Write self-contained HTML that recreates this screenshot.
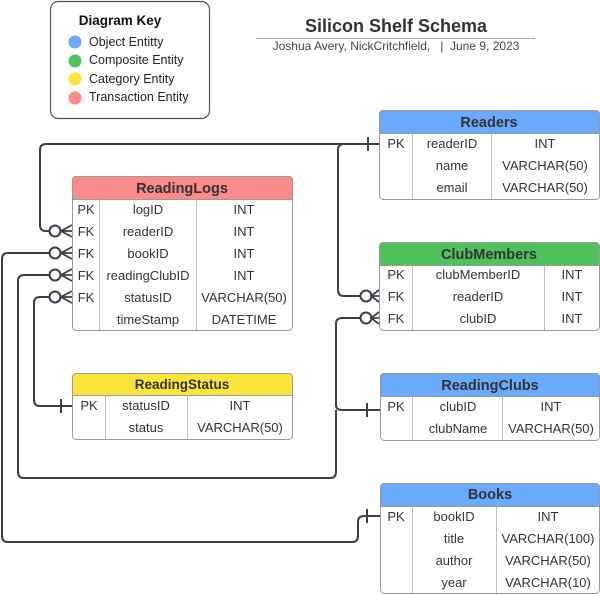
<!DOCTYPE html>
<html><head><meta charset="utf-8"><style>
html,body{margin:0;padding:0;background:#fff;}
svg{display:block;font-family:"Liberation Sans",Arial,sans-serif;}
.t{font-size:13px;fill:#333;text-anchor:middle;}
.h{font-size:14.5px;font-weight:bold;fill:#333;text-anchor:middle;}
.k{font-size:12.5px;fill:#222;text-anchor:start;}
.b{fill:#fff;stroke:#999;stroke-width:1;}
.c{stroke:#bbb;stroke-width:1;}
.ln{fill:none;stroke:#3a4048;stroke-width:2;}
</style></head><body>
<svg width="600" height="595" viewBox="0 0 600 595">
<!-- Key -->
<rect x="50.5" y="1.5" width="159" height="117" rx="8" fill="#fff" stroke="#555" stroke-width="1.2"/>
<text x="120" y="25" style="font-size:13.5px;font-weight:bold;fill:#111;text-anchor:middle">Diagram Key</text>
<circle cx="75" cy="42" r="6.5" fill="#6aaafd"/><text class="k" x="89" y="46">Object Entitty</text>
<circle cx="75" cy="61" r="6.5" fill="#4fc25b"/><text class="k" x="89" y="64">Composite Entity</text>
<circle cx="75" cy="79" r="6.5" fill="#fde43a"/><text class="k" x="89" y="83">Category Entity</text>
<circle cx="75" cy="98" r="6.5" fill="#fb8a88"/><text class="k" x="89" y="101">Transaction Entity</text>
<!-- Title -->
<text x="396" y="32" style="font-size:18px;font-weight:bold;fill:#333;text-anchor:middle">Silicon Shelf Schema</text>
<line x1="256" y1="38.5" x2="535" y2="38.5" stroke="#aaa"/>
<text x="396" y="50" style="font-size:12px;fill:#444;text-anchor:middle">Joshua Avery, NickCritchfield,&#160;&#160;&#160;|&#160;&#160;June 9, 2023</text>

<!-- Connectors -->
<path class="ln" d="M379 144 H46 Q40 144 40 150 V225 Q40 231 46 231 H49"/>
<path class="ln" d="M344 144 Q338 144 338 150 V290 Q338 296 344 296 H361"/>
<path class="ln" d="M380 516 H364 Q358 516 358 522 V536 Q358 542 352 542 H8 Q2 542 2 536 V259 Q2 253 8 253 H49"/>
<path class="ln" d="M361 318 H342 Q336 318 336 324 V405 Q336 410 342 410 H380 M336 410 V472 Q336 478 330 478 H24 Q18 478 18 472 V281 Q18 275 24 275 H49"/>
<path class="ln" d="M72 406 H40 Q34 406 34 400 V303 Q34 297 40 297 H49"/>
<!-- bars -->
<g stroke="#3a4048" stroke-width="2">
<line x1="368" y1="137" x2="368" y2="151"/>
<line x1="367" y1="509" x2="367" y2="523"/>
<line x1="367" y1="403" x2="367" y2="417"/>
<line x1="61" y1="399" x2="61" y2="413"/>
</g>
<!-- crow's feet -->
<g fill="#fff" stroke="#3a4048" stroke-width="2">
<circle cx="55" cy="231" r="5.5"/><circle cx="55" cy="253" r="5.5"/><circle cx="55" cy="275" r="5.5"/><circle cx="55" cy="297" r="5.5"/>
<circle cx="366" cy="296" r="5.5"/><circle cx="366" cy="318" r="5.5"/>
</g>
<g fill="none" stroke="#3a4048" stroke-width="1.8">
<path d="M72 225 L61 231 L72 237 M61 231 H72"/>
<path d="M72 247 L61 253 L72 259 M61 253 H72"/>
<path d="M72 269 L61 275 L72 281 M61 275 H72"/>
<path d="M72 291 L61 297 L72 303 M61 297 H72"/>
<path d="M379 290 L371 296 L379 302 M371 296 H379"/>
<path d="M379 312 L371 318 L379 324 M371 318 H379"/>
</g>

<!-- ReadingLogs -->
<rect class="b" x="72.5" y="176.5" width="220" height="154" rx="4"/>
<path d="M72.5 180.5 Q72.5 176.5 76.5 176.5 H288.5 Q292.5 176.5 292.5 180.5 V199.5 H72.5Z" fill="#fb8a88" stroke="#999"/>
<line class="c" x1="99.5" y1="199.5" x2="99.5" y2="330"/><line class="c" x1="196.5" y1="199.5" x2="196.5" y2="330"/>
<text class="h" x="182" y="193">ReadingLogs</text>
<text class="t" x="86" y="214">PK</text><text class="t" x="148" y="214">logID</text><text class="t" x="244" y="214">INT</text>
<text class="t" x="86" y="236">FK</text><text class="t" x="148" y="236">readerID</text><text class="t" x="244" y="236">INT</text>
<text class="t" x="86" y="258">FK</text><text class="t" x="148" y="258">bookID</text><text class="t" x="244" y="258">INT</text>
<text class="t" x="86" y="280">FK</text><text class="t" x="148" y="280">readingClubID</text><text class="t" x="244" y="280">INT</text>
<text class="t" x="86" y="302">FK</text><text class="t" x="148" y="302">statusID</text><text class="t" x="244" y="302">VARCHAR(50)</text>
<text class="t" x="148" y="324">timeStamp</text><text class="t" x="244" y="324">DATETIME</text>

<!-- Readers -->
<rect class="b" x="379.5" y="110.5" width="220" height="89" rx="4"/>
<path d="M379.5 114.5 Q379.5 110.5 383.5 110.5 H595.5 Q599.5 110.5 599.5 114.5 V133.5 H379.5Z" fill="#6aaafd" stroke="#999"/>
<line class="c" x1="412.5" y1="133.5" x2="412.5" y2="199"/><line class="c" x1="491.5" y1="133.5" x2="491.5" y2="199"/>
<text class="h" x="489" y="127">Readers</text>
<text class="t" x="396" y="148">PK</text><text class="t" x="452" y="148">readerID</text><text class="t" x="545" y="148">INT</text>
<text class="t" x="452" y="170">name</text><text class="t" x="545" y="170">VARCHAR(50)</text>
<text class="t" x="452" y="192">email</text><text class="t" x="545" y="192">VARCHAR(50)</text>

<!-- ClubMembers -->
<rect class="b" x="379.5" y="242.5" width="220" height="88" rx="4"/>
<path d="M379.5 246.5 Q379.5 242.5 383.5 242.5 H595.5 Q599.5 242.5 599.5 246.5 V265.5 H379.5Z" fill="#4fc25b" stroke="#999"/>
<line class="c" x1="412.5" y1="265.5" x2="412.5" y2="330"/><line class="c" x1="544.5" y1="265.5" x2="544.5" y2="330"/>
<text class="h" x="489" y="259">ClubMembers</text>
<text class="t" x="396" y="279">PK</text><text class="t" x="478" y="279">clubMemberID</text><text class="t" x="572" y="279">INT</text>
<text class="t" x="396" y="301">FK</text><text class="t" x="478" y="301">readerID</text><text class="t" x="572" y="301">INT</text>
<text class="t" x="396" y="323">FK</text><text class="t" x="478" y="323">clubID</text><text class="t" x="572" y="323">INT</text>

<!-- ReadingStatus -->
<rect class="b" x="72.5" y="373.5" width="220" height="66" rx="4"/>
<path d="M72.5 377.5 Q72.5 373.5 76.5 373.5 H288.5 Q292.5 373.5 292.5 377.5 V395.5 H72.5Z" fill="#fde43a" stroke="#999"/>
<line class="c" x1="105.5" y1="395.5" x2="105.5" y2="439"/><line class="c" x1="187.5" y1="395.5" x2="187.5" y2="439"/>
<text class="h" x="182" y="389" style="font-size:13.5px">ReadingStatus</text>
<text class="t" x="89" y="410">PK</text><text class="t" x="146" y="410">statusID</text><text class="t" x="240" y="410">INT</text>
<text class="t" x="146" y="432">status</text><text class="t" x="240" y="432">VARCHAR(50)</text>

<!-- ReadingClubs -->
<rect class="b" x="380.5" y="373.5" width="219" height="67" rx="4"/>
<path d="M380.5 377.5 Q380.5 373.5 384.5 373.5 H595.5 Q599.5 373.5 599.5 377.5 V396.5 H380.5Z" fill="#6aaafd" stroke="#999"/>
<line class="c" x1="412.5" y1="396.5" x2="412.5" y2="440"/><line class="c" x1="502.5" y1="396.5" x2="502.5" y2="440"/>
<text class="h" x="490" y="390">ReadingClubs</text>
<text class="t" x="396" y="411">PK</text><text class="t" x="458" y="411">clubID</text><text class="t" x="551" y="411">INT</text>
<text class="t" x="458" y="433">clubName</text><text class="t" x="551" y="433">VARCHAR(50)</text>

<!-- Books -->
<rect class="b" x="380.5" y="483.5" width="219" height="110" rx="4"/>
<path d="M380.5 487.5 Q380.5 483.5 384.5 483.5 H595.5 Q599.5 483.5 599.5 487.5 V506.5 H380.5Z" fill="#6aaafd" stroke="#999"/>
<line class="c" x1="412.5" y1="506.5" x2="412.5" y2="593"/><line class="c" x1="496.5" y1="506.5" x2="496.5" y2="593"/>
<text class="h" x="490" y="499">Books</text>
<text class="t" x="396" y="521">PK</text><text class="t" x="454" y="521">bookID</text><text class="t" x="548" y="521">INT</text>
<text class="t" x="454" y="543">title</text><text class="t" x="548" y="543">VARCHAR(100)</text>
<text class="t" x="454" y="565">author</text><text class="t" x="548" y="565">VARCHAR(50)</text>
<text class="t" x="454" y="587">year</text><text class="t" x="548" y="587">VARCHAR(10)</text>
</svg>
</body></html>
